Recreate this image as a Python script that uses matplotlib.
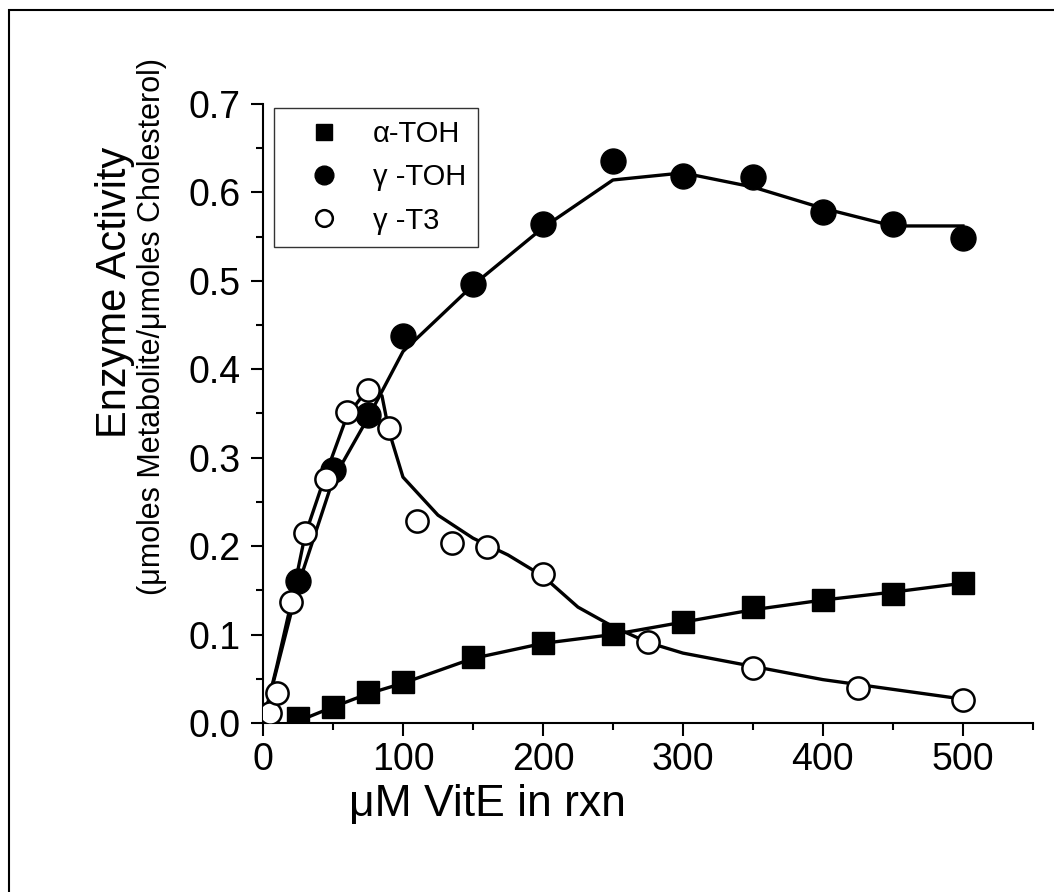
import matplotlib
matplotlib.use('Agg')
import matplotlib.pyplot as plt
from matplotlib.patches import Rectangle

plt.rcParams['font.family'] = ['Liberation Sans', 'DejaVu Sans']

# -- data --
# alpha-tocopherol
a_x = [25, 50, 75, 100, 150, 200, 250, 300, 350, 400, 450, 500]
a_y = [0.006, 0.018, 0.035, 0.046, 0.075, 0.090, 0.101, 0.114, 0.131, 0.139, 0.146, 0.158]
a_fit_x = [25, 50, 75, 100, 150, 200, 250, 300, 350, 400, 450, 500]
a_fit_y = [0.002, 0.018, 0.033, 0.045, 0.073, 0.090, 0.100, 0.114, 0.128, 0.139, 0.148, 0.158]

# gamma-tocopherol
g_x = [25, 50, 75, 100, 150, 200, 250, 300, 350, 400, 450, 500]
g_y = [0.161, 0.286, 0.348, 0.438, 0.496, 0.564, 0.635, 0.619, 0.617, 0.578, 0.564, 0.548]
g_fit_x = [0, 25, 50, 75, 90, 100, 150, 200, 250, 300, 350, 400, 450, 500]
g_fit_y = [0.0, 0.155, 0.275, 0.345, 0.39, 0.42, 0.495, 0.560, 0.614, 0.622, 0.606, 0.582, 0.562, 0.562]

# gamma-tocotrienol
t_x = [5, 10, 20, 30, 45, 60, 75, 90, 110, 135, 160, 200, 275, 350, 425, 500]
t_y = [0.011, 0.034, 0.137, 0.215, 0.276, 0.352, 0.377, 0.334, 0.228, 0.203, 0.199, 0.168, 0.092, 0.062, 0.040, 0.026]
t_fit_x = [0, 10, 20, 30, 45, 60, 75, 85, 90, 100, 125, 150, 175, 200, 225, 250, 275, 300, 350, 400, 450, 500]
t_fit_y = [0.0, 0.065, 0.135, 0.212, 0.282, 0.347, 0.378, 0.370, 0.330, 0.278, 0.235, 0.209, 0.190, 0.166, 0.131, 0.109, 0.091, 0.079, 0.064, 0.049, 0.038, 0.027]

fig = plt.figure(figsize=(10.54, 8.92), dpi=100)
ax = fig.add_axes([0.2495, 0.1895, 0.7305, 0.694])

lw = 2.4
ax.plot(a_fit_x, a_fit_y, color='black', lw=lw, zorder=2)
ax.plot(g_fit_x, g_fit_y, color='black', lw=lw, zorder=2)
ax.plot(t_fit_x, t_fit_y, color='black', lw=lw, zorder=2)

ax.plot(a_x, a_y, 's', color='black', ms=16, label=u'\u03b1-TOH', zorder=3)
ax.plot(g_x, g_y, 'o', color='black', ms=18, label=u'\u03b3 -TOH', zorder=3)
ax.plot(t_x, t_y, 'o', mfc='white', mec='black', mew=1.8, ms=16,
        label=u'\u03b3 -T3', zorder=4)

ax.set_xlim(0, 550)
ax.set_ylim(0, 0.7)
ax.set_xticks([0, 100, 200, 300, 400, 500])
ax.set_xticks(range(50, 551, 100), minor=True)
ax.set_yticks([0.0, 0.1, 0.2, 0.3, 0.4, 0.5, 0.6, 0.7])
ax.set_yticks([0.05, 0.15, 0.25, 0.35, 0.45, 0.55, 0.65], minor=True)
ax.set_yticklabels(['0.0', '0.1', '0.2', '0.3', '0.4', '0.5', '0.6', '0.7'])

for side in ['top', 'right']:
    ax.spines[side].set_visible(False)
for side in ['left', 'bottom']:
    ax.spines[side].set_linewidth(1.5)
ax.tick_params(which='major', direction='out', length=9, width=1.5,
               labelsize=27, pad=5)
ax.tick_params(axis='y', which='major', pad=7)
ax.tick_params(which='minor', direction='out', length=5, width=1.5)

ax.set_xlabel(u'\u03bcM VitE in rxn', fontsize=32)
ax.xaxis.set_label_coords(0.292, -0.099)
# two-line y label: first line larger than the second
ax.text(-0.192, 0.696, 'Enzyme Activity', transform=ax.transAxes,
        rotation=90, ha='center', va='center', fontsize=30)
ax.text(-0.144, 0.641, u'(\u03bcmoles Metabolite/\u03bcmoles Cholesterol)',
        transform=ax.transAxes, rotation=90, ha='center', va='center',
        fontsize=22)

leg = ax.legend(loc='upper left', bbox_to_anchor=(0.0143, 0.9935),
                borderaxespad=0, fontsize=21, frameon=True, fancybox=False,
                edgecolor='black', borderpad=0.42, labelspacing=0.52,
                handlelength=2.6, handletextpad=0.36, numpoints=1,
                markerscale=0.75)
leg.get_frame().set_linewidth(1.0)

# outer frame around the figure (right/bottom edges fall outside the image)
fig.patches.append(Rectangle((9 / 1054, -0.05), 1.2, 1.05 - 10 / 892,
                             transform=fig.transFigure, fill=False,
                             edgecolor='black', lw=1.5))

fig.savefig('out.png', dpi=100)
